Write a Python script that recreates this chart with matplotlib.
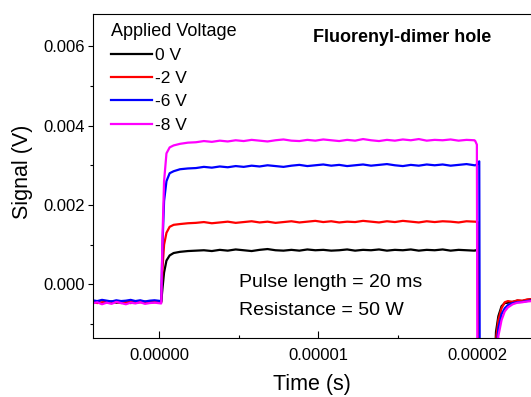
import matplotlib
matplotlib.use("Agg")
import matplotlib.pyplot as plt
import numpy as np
from matplotlib.ticker import FormatStrFormatter, MultipleLocator

plt.rcParams['font.family'] = ['Liberation Sans', 'DejaVu Sans']

# time axis in microseconds
time_us = [-4.2, -3.9, -3.6, -3.3, -3.0, -2.7, -2.4, -2.1, -1.8, -1.5, -1.2, -0.9, -0.6, -0.3, 0.12,
           0.2, 0.3, 0.45, 0.65, 0.9, 1.3, 1.8,
           2.3, 2.8, 3.3, 3.8, 4.3, 4.8, 5.3, 5.8, 6.3, 6.8, 7.3, 7.8,
           8.3, 8.8, 9.3, 9.8, 10.3, 10.8, 11.3, 11.8, 12.3, 12.8, 13.3, 13.8,
           14.3, 14.8, 15.3, 15.8, 16.3, 16.8, 17.3, 17.8, 18.3, 18.8, 19.3, 19.8,
           19.85, 19.95, 20.0, 20.1, 20.15, 20.5, 21.0, 21.15, 21.3, 21.5, 21.7, 21.9,
           22.2, 22.5, 22.8, 23.1, 23.4]

v_0 = [-0.00046, -0.00044, -0.00047, -0.00045, -0.00043, -0.00046, -0.00045, -0.00044, -0.00047, -0.00045,
       -0.00044, -0.00046, -0.00045, -0.00044, -0.00045,
       -0.0001, 0.0003, 0.0006, 0.00073, 0.00079, 0.00082, 0.00084,
       0.00085, 0.00086, 0.00084, 0.00087, 0.00085, 0.00088,
       0.00086, 0.00084, 0.00087, 0.00089, 0.00086, 0.00085,
       0.00087, 0.00085, 0.00088, 0.00086, 0.00087, 0.00085,
       0.00086, 0.00088, 0.00085, 0.00087, 0.00086, 0.00088,
       0.00085, 0.00087, 0.00086, 0.00088, 0.00085, 0.00087,
       0.00086, 0.00088, 0.00085, 0.00087, 0.00086, 0.00085,
       0.00086, 0.00085, 0.00085, -0.006, -0.006, -0.006, -0.003, -0.0012, -0.0008, -0.00055, -0.00047, -0.00046,
       -0.00044, -0.00041, -0.00042, -0.00039, -0.00037]

v_2 = [-0.00044, -0.00047, -0.00045, -0.00043, -0.00046, -0.00044, -0.00047, -0.00045, -0.00043, -0.00046,
       -0.00045, -0.00043, -0.00046, -0.00045, -0.00044,
       0.0004, 0.0010, 0.0013, 0.00145, 0.0015, 0.00152, 0.00154,
       0.00155, 0.00157, 0.00154, 0.00156, 0.00158, 0.00155,
       0.00157, 0.00159, 0.00156, 0.00158, 0.00155, 0.00157,
       0.00159, 0.00156, 0.00158, 0.00160, 0.00157, 0.00159,
       0.00156, 0.00158, 0.00157, 0.00160, 0.00158, 0.00156,
       0.00159, 0.00157, 0.00160, 0.00158, 0.00156, 0.00159,
       0.00157, 0.00159, 0.00158, 0.00156, 0.00159, 0.00158,
       0.00158, 0.00157, 0.00157, -0.006, -0.006, -0.006, -0.003, -0.0014, -0.0009, -0.0006, -0.00045, -0.00042,
       -0.00044, -0.00040, -0.00041, -0.00038, -0.00037]

v_6 = [-0.00040, -0.00042, -0.00039, -0.00041, -0.00043, -0.00040, -0.00042, -0.00041, -0.00039, -0.00042,
       -0.00040, -0.00043, -0.00041, -0.00040, -0.00042,
       0.0010, 0.0021, 0.0026, 0.0028, 0.00285, 0.0029, 0.00292,
       0.00293, 0.00296, 0.00294, 0.00297, 0.00295, 0.00298,
       0.00296, 0.00299, 0.00297, 0.00300, 0.00298, 0.00296,
       0.00299, 0.00301, 0.00298, 0.00300, 0.00302, 0.00299,
       0.00301, 0.00298, 0.00300, 0.00302, 0.00299, 0.00301,
       0.00303, 0.00300, 0.00298, 0.00301, 0.00299, 0.00302,
       0.00300, 0.00302, 0.00299, 0.00301, 0.00303, 0.00300,
       0.00300, 0.00302, 0.00305, 0.0031, -0.006, -0.006, -0.0035, -0.0018, -0.0011, -0.00075, -0.0006, -0.00052,
       -0.00047, -0.00045, -0.00044, -0.00042, -0.00040]

v_8 = [-0.00048, -0.00045, -0.00050, -0.00046, -0.00049, -0.00044, -0.00047, -0.00050, -0.00046, -0.00048,
       -0.00045, -0.00049, -0.00047, -0.00046, -0.00048,
       0.0012, 0.0026, 0.0033, 0.00345, 0.0035, 0.00354, 0.00357,
       0.00358, 0.00361, 0.00359, 0.00362, 0.00360, 0.00363,
       0.00361, 0.00364, 0.00362, 0.00360, 0.00363, 0.00365,
       0.00362, 0.00361, 0.00364, 0.00362, 0.00365, 0.00363,
       0.00361, 0.00364, 0.00362, 0.00366, 0.00363, 0.00361,
       0.00364, 0.00362, 0.00365, 0.00363, 0.00366, 0.00362,
       0.00364, 0.00363, 0.00365, 0.00362, 0.00364, 0.00363,
       0.00361, 0.00352, -0.006, -0.006, -0.006, -0.006, -0.004, -0.002, -0.0013, -0.0009, -0.00068, -0.00058,
       -0.0005, -0.00046, -0.00045, -0.00043, -0.00042]

labels = ['0 V', '-2 V', '-6 V', '-8 V']
colors = ['black', 'red', 'blue', 'magenta']

t = np.array(time_us) * 1e-6

fig = plt.figure(figsize=(5.31, 3.97), dpi=100)
ax = fig.add_axes([93 / 531, 59 / 397, 438 / 531, 324 / 397])

for v, lab, c in zip([v_0, v_2, v_6, v_8], labels, colors):
    ax.plot(t, v, color=c, lw=1.6, label=lab)

ax.set_xlim(-0.4165e-5, 2.335e-5)
ax.set_ylim(-0.00135, 0.00681)

ax.xaxis.set_major_locator(MultipleLocator(1e-5))
ax.xaxis.set_minor_locator(MultipleLocator(5e-6))
ax.yaxis.set_major_locator(MultipleLocator(0.002))
ax.yaxis.set_minor_locator(MultipleLocator(0.001))
ax.xaxis.set_major_formatter(FormatStrFormatter('%.5f'))
ax.yaxis.set_major_formatter(FormatStrFormatter('%.3f'))

ax.tick_params(axis='x', which='major', direction='in', length=5, width=0.8, labelsize=12, pad=7)
ax.tick_params(axis='x', which='minor', direction='in', length=2.5, width=0.8)
ax.tick_params(axis='y', which='major', direction='out', length=3.5, width=0.8, labelsize=12, pad=2.5)
ax.tick_params(axis='y', which='minor', direction='out', length=2, width=0.8)

ax.spines['right'].set_visible(False)
for s in ['left', 'top', 'bottom']:
    ax.spines[s].set_linewidth(0.8)

ax.set_xlabel('Time (s)', fontsize=15.5, labelpad=8)
ax.set_ylabel('Signal (V)', fontsize=15.5, labelpad=7)
ax.yaxis.label.set_y(0.514)

leg = ax.legend(title='Applied Voltage', loc='upper left', bbox_to_anchor=(0.04, 0.972),
                frameon=False, fontsize=12.5, title_fontsize=13, handlelength=2.4,
                handletextpad=0.15, labelspacing=0.46, borderpad=0, borderaxespad=0,
                alignment='left')

ax.text(0.7066, 0.929, 'Fluorenyl-dimer hole', transform=ax.transAxes, ha='center', va='center',
        fontsize=13, fontweight='bold')
ax.text(0.333, 0.170, 'Pulse length = 20 ms', transform=ax.transAxes, fontsize=14, va='center')
ax.text(0.333, 0.086, 'Resistance = 50 W', transform=ax.transAxes, fontsize=14, va='center')

fig.savefig('out.png', dpi=100)
